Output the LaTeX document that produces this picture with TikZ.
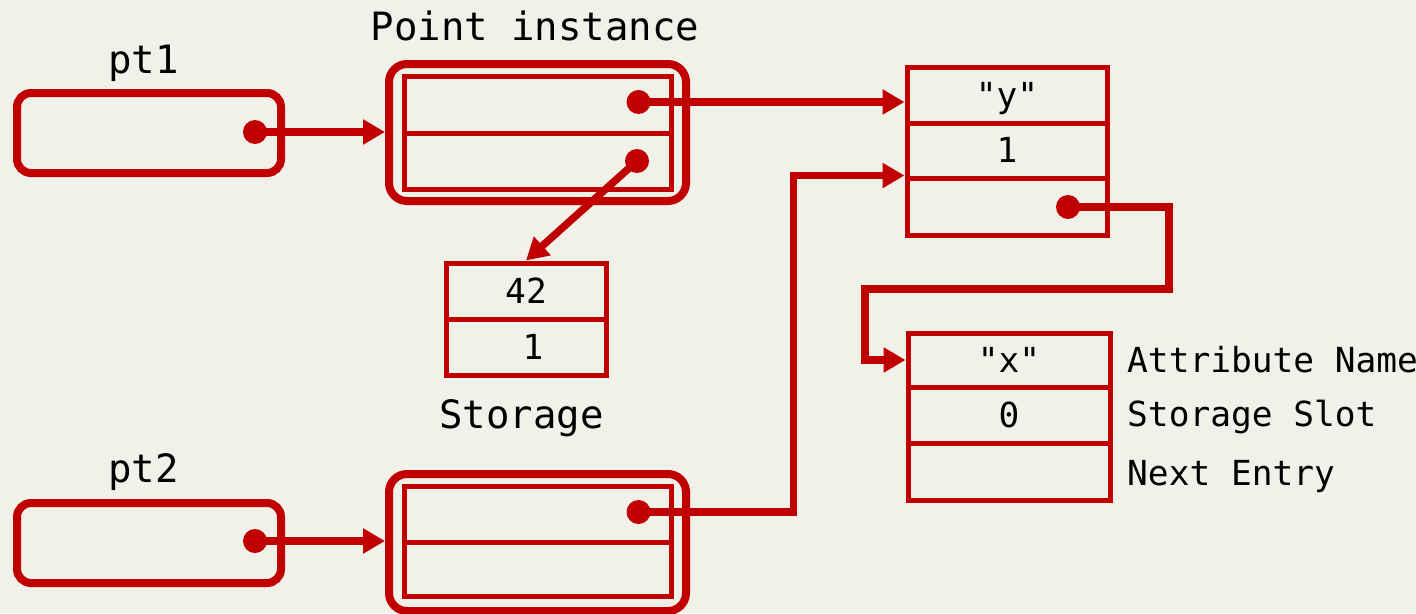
\documentclass[tikz,border=0pt]{standalone}
\usepackage{fontspec}
\newfontfamily\monof{DejaVu Sans Mono}
\usetikzlibrary{arrows.meta}
\definecolor{dred}{HTML}{C00000}
\definecolor{bg}{RGB}{242,241,233}
\begin{document}
\begin{tikzpicture}[x=1pt,y=-1pt,
  cell/.style={draw=dred, line width=5pt, inner sep=0pt, text height=24pt, text depth=0pt, font=\monof\fontsize{34.5}{40}\selectfont},
  outerbox/.style={draw=dred, line width=8pt, rounded corners=18pt, inner sep=0pt},
  varbox/.style={draw=dred, line width=8pt, rounded corners=14pt, inner sep=0pt, minimum width=264pt, minimum height=80pt},
  dot/.style={circle, fill=dred, minimum size=24pt, inner sep=0pt},
  conn/.style={draw=dred, line width=7.5pt, -{Triangle[length=22pt,width=24pt]}},
  big/.style={inner sep=0pt, font=\monof\fontsize{39}{45}\selectfont},
  small/.style={inner sep=0pt, font=\monof\fontsize{34.5}{40}\selectfont}]
\useasboundingbox (0,0) rectangle (1416,613);
\fill[bg] (0,0) rectangle (1416,613);
\clip (0,0) rectangle (1416,613);

% labels
\node[big, anchor=base] (lpi) at (535,40) {Point instance};
\node[big, anchor=base] (lpt1) at (143.5,73) {pt1};
\node[big, anchor=base] (lpt2) at (143.5,482) {pt2};
\node[big, anchor=base] (lst) at (521.5,428) {Storage};
\node[small, anchor=base west] (la) at (1127,372) {Attribute Name};
\node[small, anchor=base west] (ls) at (1127,426) {Storage Slot};
\node[small, anchor=base west] (ln) at (1127,485) {Next Entry};

% variable boxes
\node[varbox] (pt1) at (149,133) {};
\node[varbox] (pt2) at (149,543) {};

% point instances
\node[outerbox, minimum width=297pt, minimum height=137pt] (inst1) at (537.5,132.5) {};
\node[cell, minimum width=266.5pt, minimum height=57pt] (i1a) at (538,104.5) {};
\node[cell, minimum width=266.5pt, minimum height=56pt] (i1b) at (538,161) {};
\node[outerbox, minimum width=297pt, minimum height=137pt] (inst2) at (537.5,542.5) {};
\node[cell, minimum width=266.5pt, minimum height=56pt] (i2a) at (538,514) {};
\node[cell, minimum width=266.5pt, minimum height=54pt] (i2b) at (538,569) {};

% storage
\node[cell, minimum width=160pt, minimum height=56pt] (s1) at (526,291) {42};
\node[cell, minimum width=160pt, minimum height=56pt] (s2) at (526,347) {\hspace*{14pt}1};

% y entry
\node[cell, minimum width=200pt, minimum height=56pt] (y1) at (1007,95) {"y"};
\node[cell, minimum width=200pt, minimum height=55pt] (y2) at (1007,150.5) {1};
\node[cell, minimum width=200pt, minimum height=57pt] (y3) at (1007,206.5) {};

% x entry
\node[cell, minimum width=202pt, minimum height=54pt] (x1) at (1009,360) {"x"};
\node[cell, minimum width=202pt, minimum height=56pt] (x2) at (1009,415) {0};
\node[cell, minimum width=202pt, minimum height=57pt] (x3) at (1009,471.5) {};

% dots
\node[dot] (d1) at (255,132) {};
\node[dot] (d2) at (255,541) {};
\node[dot] (dA) at (638.5,102) {};
\node[dot] (dB) at (637,161) {};
\node[dot] (dD) at (638.5,512) {};
\node[dot] (dC) at (1068,207) {};

\coordinate (jD) at (793.5,512);
\coordinate (jC1) at (1169,289);
\coordinate (jC2) at (865,289);

% connectors
\draw[conn] (d1.center) -- (d1 -| inst1.west);
\draw[conn] (d2.center) -- (d2 -| inst2.west);
\draw[conn] (dA.center) -- (dA -| y1.west);
\draw[conn] (dB.center) -- (s1.north);
\draw[conn] (dD.center) -- (jD) |- (y3.north west);
\draw[conn] (dC.center) -| (jC1) -- (jC2) |- (x1.west);
\end{tikzpicture}
\end{document}
